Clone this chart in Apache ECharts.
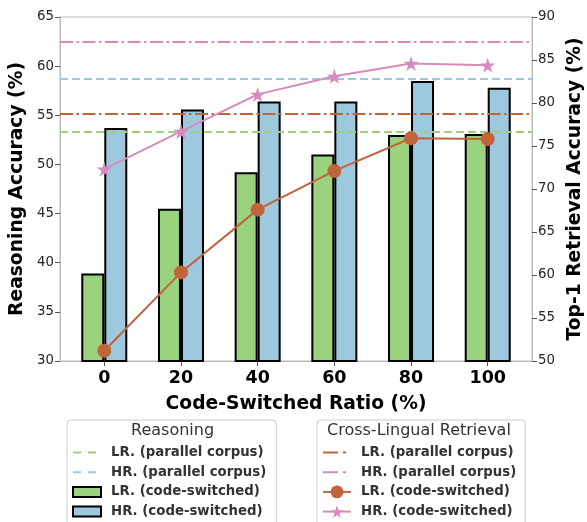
<!DOCTYPE html>
<html>
<head>
<meta charset="utf-8">
<script src="https://cdn.jsdelivr.net/npm/echarts@6/dist/echarts.min.js"></script>
<style>
html,body{margin:0;padding:0;background:#fff;}
#main{width:587px;height:522px;}
</style>
</head>
<body>
<div id="main"></div>
<script>
// ---- data ----
const categories = [0, 20, 40, 60, 80, 100];
const lrReasoningCS = [38.9, 45.5, 49.2, 51.0, 53.0, 53.1];
const hrReasoningCS = [53.7, 55.6, 56.4, 56.4, 58.5, 57.8];
const lrRetrievalCS = [51.2, 60.3, 67.6, 72.1, 75.9, 75.8];
const hrRetrievalCS = [72.3, 76.7, 81.0, 83.1, 84.6, 84.4];
const lrReasoningParallel = 53.3;
const hrReasoningParallel = 58.7;
const lrRetrievalParallel = 78.8;
const hrRetrievalParallel = 87.1;
const leftTicks = [30, 35, 40, 45, 50, 55, 60, 65];
const rightTicks = [50, 55, 60, 65, 70, 75, 80, 85, 90];
const reasoningNames = ['LR. (parallel corpus)', 'HR. (parallel corpus)', 'LR. (code-switched)', 'HR. (code-switched)'];
const ZW = '\u200b';
const retrievalNames = reasoningNames.map(n => n + ZW);

// ---- styles ----
const FONT = 'DejaVu Sans';
const GREEN = '#9bd27d', BLUE = '#9ec8de', BROWN = '#c1643c', PINK = '#d68bbe';
const DASH = [8, 4];
const DASHDOT = [13, 3.5, 2.5, 3.5];
const LEG_DASH = [8, 7];
const LEG_DASHDOT = [15, 5, 3, 5];
const RECT_ICON = 'path://M0,0h28v10h-28z';
const STAR = 'path://M50,0 L61.8,35.1 L98.1,35.1 L68.7,56.7 L79.4,90.5 L50,70 L20.6,90.5 L31.3,56.7 L1.9,35.1 L38.2,35.1 Z';

const pair = (xs, ys) => xs.map((x, i) => [x, ys[i]]);

const chart = echarts.init(document.getElementById('main'), null, {renderer: 'canvas'});

function refLine(name, value, color, type, yIdx) {
  return {
    name: name, type: 'line', yAxisIndex: yIdx, data: [], symbol: 'none',
    lineStyle: {color: color, width: 2, type: type}, itemStyle: {color: color},
    z: 5,
    markLine: {
      silent: true, symbol: 'none', label: {show: false},
      lineStyle: {color: color, width: 2, type: type},
      data: [{yAxis: value}], animation: false
    }
  };
}

const legendBase = {
  orient: 'vertical', top: 420, height: 140, itemWidth: 28, itemHeight: 16, itemGap: 6.7,
  symbolKeepAspect: true,
  backgroundColor: '#fff', borderColor: '#cccccc', borderWidth: 1, borderRadius: 4,
  selectedMode: false,
  textStyle: {fontFamily: FONT, fontWeight: 'bold', fontSize: 13.3, color: '#333', padding: [0, 0, 0, 5]},
  formatter: n => n.replace(ZW, '')
};
const hideSym = {opacity: 0};

const tickLabel = {fontFamily: FONT, fontSize: 13.3, color: '#262626', margin: 6};
const titleStyle = {fontFamily: FONT, fontWeight: 'bold', fontSize: 18.7, color: '#000'};

const option = {
  animation: false,
  backgroundColor: '#fff',
  grid: {left: 60, right: 55, top: 17, bottom: 161, show: true, borderColor: '#bbbbbb', borderWidth: 1,
         containLabel: false, outerBoundsMode: 'none'},
  xAxis: {
    type: 'value', min: -11.55, max: 111.55,
    name: 'Code-Switched Ratio (%)', nameLocation: 'middle', nameGap: 34,
    nameTextStyle: titleStyle,
    axisLine: {show: true, onZero: false, lineStyle: {color: '#bbbbbb', width: 1}},
    axisTick: {show: true, length: 5, lineStyle: {color: '#555'}, customValues: categories},
    axisLabel: {customValues: categories, fontFamily: FONT, fontWeight: 'bold', fontSize: 17.5, color: '#000', margin: 8},
    splitLine: {show: false}
  },
  yAxis: [{
    type: 'value', min: leftTicks[0], max: leftTicks[leftTicks.length - 1], interval: 5, position: 'left',
    name: 'Reasoning Accuracy (%)', nameLocation: 'middle', nameGap: 31,
    nameTextStyle: titleStyle,
    axisLine: {show: true, onZero: false, lineStyle: {color: '#bbbbbb'}},
    axisTick: {show: true, length: 5, lineStyle: {color: '#555'}},
    axisLabel: tickLabel,
    splitLine: {show: false}
  }, {
    type: 'value', min: rightTicks[0], max: rightTicks[rightTicks.length - 1], interval: 5, position: 'right',
    name: 'Top-1 Retrieval Accuracy (%)', nameLocation: 'middle', nameGap: 30, nameRotate: 90,
    nameTextStyle: titleStyle,
    axisLine: {show: true, onZero: false, lineStyle: {color: '#bbbbbb'}},
    axisTick: {show: true, length: 5, lineStyle: {color: '#555'}},
    axisLabel: tickLabel,
    splitLine: {show: false}
  }],
  legend: [
    Object.assign({}, legendBase, {
      left: 67, padding: [26, 10, 10, 5],
      data: [
        {name: reasoningNames[0], itemStyle: hideSym, lineStyle: {type: LEG_DASH}},
        {name: reasoningNames[1], itemStyle: hideSym, lineStyle: {type: LEG_DASH}},
        {name: reasoningNames[2], icon: RECT_ICON}, {name: reasoningNames[3], icon: RECT_ICON}
      ]
    }),
    Object.assign({}, legendBase, {
      left: 317, padding: [26, 9, 10, 5],
      data: [
        {name: retrievalNames[0], itemStyle: hideSym, lineStyle: {type: LEG_DASHDOT}},
        {name: retrievalNames[1], itemStyle: hideSym, lineStyle: {type: LEG_DASHDOT}},
        {name: retrievalNames[2]}, {name: retrievalNames[3]}
      ]
    })
  ],
  graphic: [
    {type: 'text', left: 131, top: 423, style: {text: 'Reasoning', font: '16px "DejaVu Sans"', fill: '#333'}, z: 100},
    {type: 'text', left: 327, top: 423, style: {text: 'Cross-Lingual Retrieval', font: '16px "DejaVu Sans"', fill: '#333'}, z: 100}
  ],
  series: [
    {
      name: reasoningNames[2], type: 'bar', yAxisIndex: 0, barWidth: 23, barGap: '0%',
      data: pair(categories, lrReasoningCS),
      itemStyle: {color: GREEN, borderColor: '#000', borderWidth: 2}, z: 2
    },
    {
      name: reasoningNames[3], type: 'bar', yAxisIndex: 0, barWidth: 23, barGap: '0%',
      data: pair(categories, hrReasoningCS),
      itemStyle: {color: BLUE, borderColor: '#000', borderWidth: 2}, z: 2
    },
    refLine(reasoningNames[0], lrReasoningParallel, GREEN, DASH, 0),
    refLine(reasoningNames[1], hrReasoningParallel, BLUE, DASH, 0),
    refLine(retrievalNames[0], lrRetrievalParallel, BROWN, DASHDOT, 1),
    refLine(retrievalNames[1], hrRetrievalParallel, PINK, DASHDOT, 1),
    {
      name: retrievalNames[2], type: 'line', yAxisIndex: 1,
      data: pair(categories, lrRetrievalCS),
      symbol: 'circle', symbolSize: 14,
      lineStyle: {color: BROWN, width: 2}, itemStyle: {color: BROWN}, z: 6
    },
    {
      name: retrievalNames[3], type: 'line', yAxisIndex: 1,
      data: pair(categories, hrRetrievalCS),
      symbol: STAR, symbolSize: 15,
      lineStyle: {color: PINK, width: 2}, itemStyle: {color: PINK}, z: 6
    }
  ]
};
chart.setOption(option);
</script>
</body>
</html>
